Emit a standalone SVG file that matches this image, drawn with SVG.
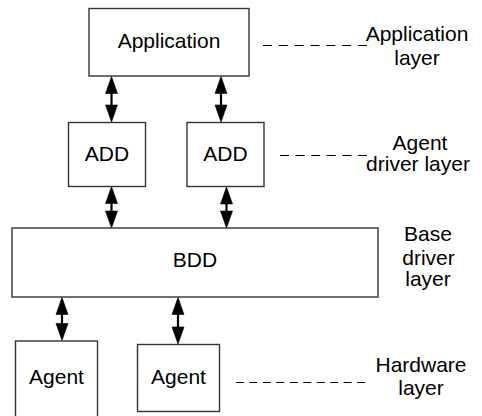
<svg xmlns="http://www.w3.org/2000/svg" width="482" height="416" viewBox="0 0 482 416">
<style>
.box{fill:#fff;stroke:#333;stroke-width:1.4}
.t{font-family:"Liberation Sans",Arial,sans-serif;font-size:21px;fill:#000;text-anchor:middle}
.shaft{stroke:#000;stroke-width:2.2;fill:none}
.head{fill:#000;stroke:#000;stroke-width:0.6}
.dash{stroke:#000;stroke-width:1;fill:none}
</style>
<defs>
<path id="up" d="M-6,17 L0,0 L6,17 z"/>
<path id="down" d="M-6,-17 L0,0 L6,-17 z"/>
</defs>
<rect width="482" height="416" fill="#fff"/>
<g id="connectors">
<line class="shaft" x1="111.5" y1="90" x2="111.5" y2="108"/>
<use class="head" href="#up" x="111.5" y="76.5"/>
<use class="head" href="#down" x="111.5" y="122"/>
<line class="shaft" x1="221" y1="90" x2="221" y2="108"/>
<use class="head" href="#up" x="221" y="76.5"/>
<use class="head" href="#down" x="221" y="122"/>
<line class="shaft" x1="111.5" y1="200" x2="111.5" y2="214"/>
<use class="head" href="#up" x="111.5" y="186.5"/>
<use class="head" href="#down" x="111.5" y="228"/>
<line class="shaft" x1="226.5" y1="200" x2="226.5" y2="214"/>
<use class="head" href="#up" x="226.5" y="187"/>
<use class="head" href="#down" x="226.5" y="228"/>
<line class="shaft" x1="62" y1="310" x2="62" y2="328"/>
<use class="head" href="#up" x="62" y="297.5"/>
<use class="head" href="#down" x="62" y="340.5"/>
<line class="shaft" x1="178" y1="310" x2="178" y2="331"/>
<use class="head" href="#up" x="178" y="297.5"/>
<use class="head" href="#down" x="178" y="344"/>
<line class="dash" x1="263" y1="45.5" x2="367" y2="45.5" stroke-dasharray="9 6.83"/>
<line class="dash" x1="280" y1="155.5" x2="367" y2="155.5" stroke-dasharray="9 6.6"/>
<line class="dash" x1="236" y1="382.5" x2="365" y2="382.5" stroke-dasharray="8 5.45"/>
</g>
<g id="application">
<rect class="box" x="89" y="8.5" width="160" height="67.5"/>
<text class="t" x="169" y="48">Application</text>
</g>
<g id="add1">
<rect class="box" x="68.5" y="122.5" width="77" height="64"/>
<text class="t" x="107" y="161">ADD</text>
</g>
<g id="add2">
<rect class="box" x="187" y="122.5" width="77" height="64"/>
<text class="t" x="225.5" y="161">ADD</text>
</g>
<g id="bdd">
<rect class="box" x="12" y="228" width="366" height="69"/>
<text class="t" x="195" y="267">BDD</text>
</g>
<g id="agent1">
<rect class="box" x="15.5" y="341" width="82" height="90"/>
<text class="t" x="56.5" y="383.5">Agent</text>
</g>
<g id="agent2">
<rect class="box" x="137.5" y="344.5" width="82" height="67"/>
<text class="t" x="178.5" y="383.5">Agent</text>
</g>
<g id="labels">
<text class="t"><tspan x="417" y="40.5">Application</tspan><tspan x="417" y="65">layer</tspan></text>
<text class="t"><tspan x="420" y="149.5">Agent</tspan><tspan x="418" y="171">driver layer</tspan></text>
<text class="t"><tspan x="428" y="240.5">Base</tspan><tspan x="428.5" y="264.5">driver</tspan><tspan x="428" y="285.5">layer</tspan></text>
<text class="t"><tspan x="421" y="371.5">Hardware</tspan><tspan x="421" y="395">layer</tspan></text>
</g>
</svg>
